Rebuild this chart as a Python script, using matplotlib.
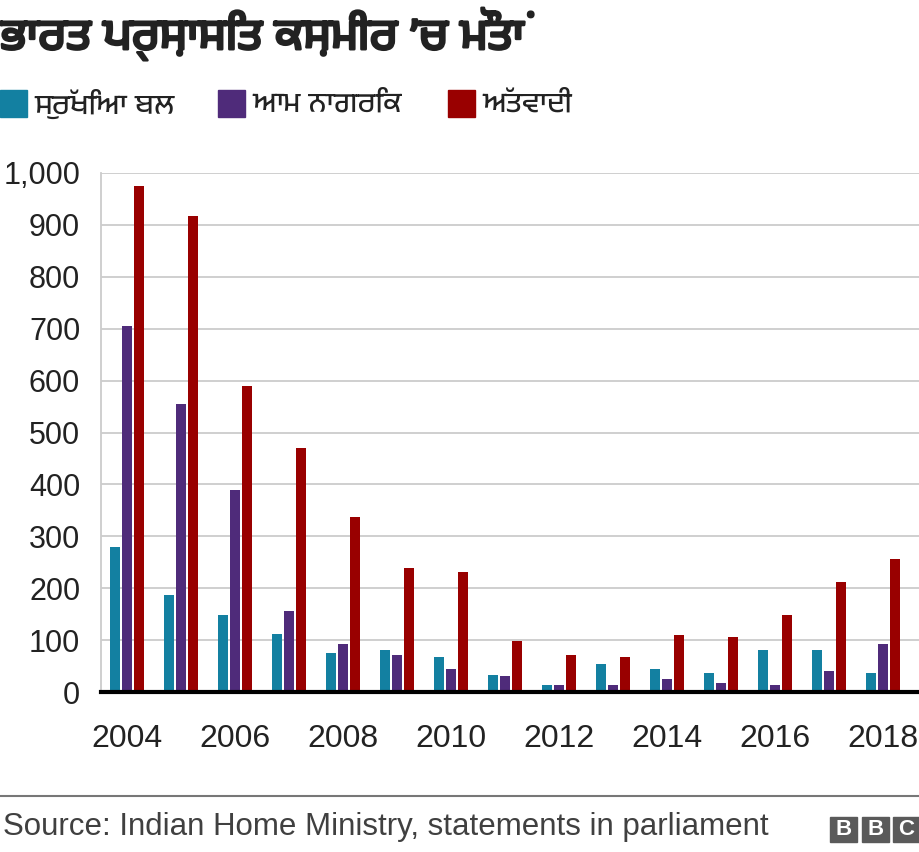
import matplotlib
matplotlib.use("Agg")
import matplotlib.pyplot as plt
import matplotlib.patheffects as pe
from matplotlib import font_manager
from matplotlib.patches import Rectangle
import numpy as np

# ---- data ----
years = list(range(2004, 2019))
security = [280, 187, 149, 111, 76, 80, 68, 33, 14, 53, 45, 37, 80, 80, 37]
civilians = [705, 554, 389, 157, 92, 72, 45, 30, 14, 14, 26, 17, 14, 40, 92]
militants = [975, 917, 589, 470, 338, 238, 231, 99, 72, 68, 110, 106, 149, 211, 257]

series_names = ["ਸੁਰੱਖਿਆ ਬਲ", "ਆਮ ਨਾਗਰਿਕ", "ਅੱਤਵਾਦੀ"]
colors = ["#1380A1", "#4F2B7A", "#990000"]
title = "ਭਾਰਤ ਪ੍ਰਸ਼ਾਸਿਤ ਕਸ਼ਮੀਰ ’ਚ ਮੌਤਾਂ"
source = "Source: Indian Home Ministry, statements in parliament"

# ---- fonts: look for anything that can draw Gurmukhi ----
gur_family = None
for f in font_manager.fontManager.ttflist:
    if any(k in f.name for k in ("Gurmukhi", "Lohit", "Raavi", "Saab", "Mukta Mahee")):
        gur_family = f.name
        break
latin = "Liberation Sans"
gur_fonts = [gur_family, latin] if gur_family else [latin, "DejaVu Sans"]

W, H = 920, 852
fig = plt.figure(figsize=(W / 100, H / 100), dpi=100)

def fx(px):
    return px / W

def fy(py):
    return 1 - py / H

ax = fig.add_axes([fx(101), fy(692), fx(920) - fx(101), fy(173) - fy(692)])

x = np.array(years, dtype=float)
bw = 0.185
step = 0.222
for i, (vals, c) in enumerate(zip([security, civilians, militants], colors)):
    ax.bar(x + (i - 1) * step, vals, width=bw, color=c, zorder=3)

ax.set_xlim(2003.52, 2018.69)
ax.set_ylim(0, 1000)
ax.set_yticks(range(0, 1001, 100))
ax.set_yticklabels([f"{v:,}" for v in range(0, 1001, 100)], fontsize=22, family=latin)
ax.set_xticks(years[::2])
ax.set_xticklabels([str(y) for y in years[::2]], fontsize=23, family=latin)
ax.tick_params(axis="both", length=0, colors="#222222")
ax.tick_params(axis="y", pad=15)
ax.tick_params(axis="x", pad=23)
ax.grid(axis="y", color="#cccccc", linewidth=1.3, zorder=0)

for s in ["top", "right"]:
    ax.spines[s].set_visible(False)
ax.spines["left"].set_color("#cccccc")
ax.spines["left"].set_linewidth(1.3)
ax.spines["bottom"].set_color("black")
ax.spines["bottom"].set_linewidth(3)
ax.spines["bottom"].set_zorder(4)

# title (the Gurmukhi font has no bold face, so thicken with a stroke)
fig.text(0, fy(34), title, fontsize=32.5, fontweight="bold", family=gur_fonts,
         va="center", ha="left", color="#222222",
         path_effects=[pe.withStroke(linewidth=1.8, foreground="#222222")])

# legend
leg_x = [0, 218, 448]
for lx, name, c in zip(leg_x, series_names, colors):
    fig.add_artist(Rectangle((fx(lx), fy(117)), fx(27), fy(90) - fy(117),
                             transform=fig.transFigure, color=c))
    fig.text(fx(lx + 34), fy(104), name, fontsize=21, family=gur_fonts,
             va="center", ha="left", color="#222222")

# footer
fig.add_artist(plt.Line2D([0, 1], [fy(796), fy(796)], transform=fig.transFigure,
                          color="#777777", linewidth=1.5))
fig.text(fx(3), fy(827), source, fontsize=22.5, family=latin,
         va="center", ha="left", color="#404040")

# BBC blocks
for bx, letter in zip([830, 862, 893], "BBC"):
    fig.add_artist(Rectangle((fx(bx), fy(842)), fx(27), fy(817) - fy(842),
                             transform=fig.transFigure, color="#5a5a5a"))
    fig.text(fx(bx + 13.5), fy(829.5), letter, fontsize=16, fontweight="bold",
             family=latin, color="white", ha="center", va="center")

fig.savefig("out.png", dpi=100)
